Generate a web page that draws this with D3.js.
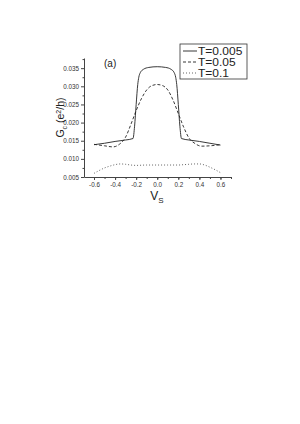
<!DOCTYPE html>
<html>
<head>
<meta charset="utf-8">
<script src="https://d3js.org/d3.v7.min.js"></script>
<style>
  html, body { margin: 0; padding: 0; background: #fff; }
  svg { display: block; font-family: "Liberation Sans", Arial, sans-serif; }
  .axis path, .axis line { stroke: #444; }
  .axis text { fill: #333; font-size: 6.3px; }
</style>
</head>
<body>
<svg id="chart" width="300" height="424"></svg>
<script>
// data
const vLow = [-0.6, -0.5, -0.4, -0.3, -0.23, -0.215, -0.2, -0.185, -0.175, -0.16, -0.13, -0.08, 0,
              0.08, 0.13, 0.16, 0.175, 0.185, 0.2, 0.215, 0.23, 0.3, 0.4, 0.5, 0.6];
const gLow = [0.0139, 0.0143, 0.0148, 0.0152, 0.0156, 0.0190, 0.0250, 0.0305, 0.0325, 0.0338, 0.0347, 0.0352, 0.0354,
              0.0352, 0.0347, 0.0338, 0.0325, 0.0305, 0.0250, 0.0190, 0.0156, 0.0152, 0.0148, 0.0143, 0.0138];

const vMid = [-0.6, -0.5, -0.42, -0.36, -0.3, -0.25, -0.2, -0.15, -0.1, -0.05, 0,
              0.05, 0.1, 0.15, 0.2, 0.25, 0.3, 0.36, 0.42, 0.5, 0.6];
const gMid = [0.0140, 0.0136, 0.0133, 0.0140, 0.0160, 0.0195, 0.0233, 0.0266, 0.0290, 0.0302, 0.0305,
              0.0302, 0.0290, 0.0262, 0.0225, 0.0188, 0.0158, 0.0142, 0.0135, 0.0136, 0.0139];

const vHigh = [-0.6, -0.55, -0.5, -0.45, -0.4, -0.35, -0.3, -0.25, -0.2, -0.1, 0, 0.1, 0.2, 0.25, 0.3, 0.35, 0.4, 0.45, 0.5, 0.55, 0.6];
const gHigh = [0.0060, 0.0068, 0.0075, 0.0080, 0.0084, 0.0086, 0.0085, 0.0083, 0.0082, 0.0083, 0.0083,
               0.0083, 0.0083, 0.0084, 0.0085, 0.0086, 0.0086, 0.0083, 0.0077, 0.0070, 0.0062];

const seriesNames = ['T=0.005', 'T=0.05', 'T=0.1'];
const xTicks = [-0.6, -0.4, -0.2, 0, 0.2, 0.4, 0.6];
const yTicks = [0.005, 0.010, 0.015, 0.020, 0.025, 0.030, 0.035];

const series = [
  {name: seriesNames[0], v: vLow, g: gLow, dash: null, color: '#222'},
  {name: seriesNames[1], v: vMid, g: gMid, dash: '3,2', color: '#222'},
  {name: seriesNames[2], v: vHigh, g: gHigh, dash: '1,2', color: '#555'},
];

const svg = d3.select('#chart');
const x = d3.scaleLinear().domain([-0.695, 0.70]).range([84, 231]);
const y = d3.scaleLinear().domain([0.005, 0.0378]).range([177, 58]);

// minor ticks
const xMinor = d3.range(-0.7, 0.71, 0.1).map(d => +d.toFixed(1)).filter(d => d >= -0.69);
const yMinor = d3.range(0.0075, 0.0376, 0.005);

svg.append('g').attr('class', 'axis')
  .attr('transform', `translate(0,${y.range()[0]})`)
  .call(d3.axisBottom(x).tickValues(xMinor).tickSize(2).tickFormat(''))
  .call(g => g.select('.domain').remove());
svg.append('g').attr('class', 'axis')
  .attr('transform', `translate(0,${y.range()[0]})`)
  .call(d3.axisBottom(x).tickValues(xTicks).tickSize(3).tickSizeOuter(0).tickPadding(3)
    .tickFormat(d => d.toFixed(1)));

svg.append('g').attr('class', 'axis')
  .attr('transform', `translate(${x.range()[0]},0)`)
  .call(d3.axisLeft(y).tickValues(yMinor).tickSize(1.5).tickFormat(''))
  .call(g => g.select('.domain').remove());
svg.append('g').attr('class', 'axis')
  .attr('transform', `translate(${x.range()[0]},0)`)
  .call(d3.axisLeft(y).tickValues(yTicks).tickSize(3).tickSizeOuter(0).tickPadding(2)
    .tickFormat(d => d.toFixed(3)));

const line = d3.line().x(d => x(d[0])).y(d => y(d[1])).curve(d3.curveMonotoneX);

svg.append('g').selectAll('path')
  .data(series)
  .join('path')
  .attr('fill', 'none')
  .attr('stroke', d => d.color)
  .attr('stroke-width', 0.9)
  .attr('stroke-dasharray', d => d.dash)
  .attr('d', d => line(d.v.map((v, i) => [v, d.g[i]])));

// panel label
svg.append('text').attr('x', 104).attr('y', 67)
  .attr('font-size', 10).attr('fill', '#222').text('(a)');

// axis titles
svg.append('text').attr('x', 157).attr('y', 200)
  .attr('text-anchor', 'middle').attr('font-size', 12).attr('fill', '#222')
  .call(t => {
    t.append('tspan').text('V');
    t.append('tspan').attr('font-size', 8).attr('dy', 3).text('S');
  });

svg.append('text')
  .attr('transform', `translate(64,${(y.range()[0] + y.range()[1]) / 2}) rotate(-90)`)
  .attr('text-anchor', 'middle').attr('font-size', 10.5).attr('fill', '#222')
  .call(t => {
    t.append('tspan').text('G');
    t.append('tspan').attr('font-size', 7).attr('dy', 2.5).text('c');
    t.append('tspan').attr('dy', -2.5).text(' (e');
    t.append('tspan').attr('font-size', 7).attr('dy', -3).text('2');
    t.append('tspan').attr('dy', 3).text('/h)');
  });

// legend
const lg = svg.append('g').attr('transform', 'translate(180,44)');
lg.append('rect').attr('width', 67).attr('height', 35)
  .attr('fill', '#fff').attr('stroke', '#333').attr('stroke-width', 0.8);
const rows = lg.selectAll('g.row').data(series).join('g')
  .attr('class', 'row')
  .attr('transform', (d, i) => `translate(0,${7 + i * 11})`);
rows.append('line').attr('x1', 3).attr('x2', 17)
  .attr('stroke', d => d.color).attr('stroke-width', 0.9)
  .attr('stroke-dasharray', d => d.dash);
rows.append('text').attr('transform', 'translate(18,3.5) scale(1.2,1)')
  .attr('font-size', 10).attr('fill', '#222').text(d => d.name);
</script>
</body>
</html>
